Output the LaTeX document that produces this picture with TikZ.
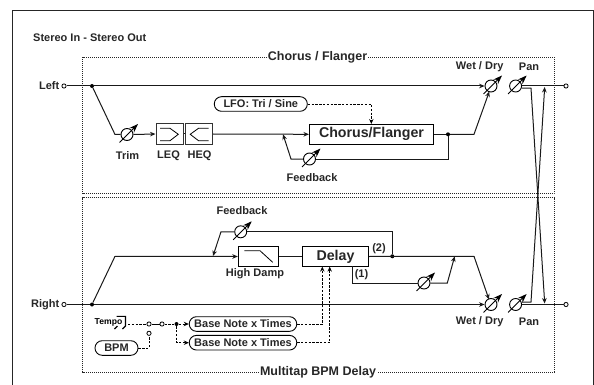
\documentclass[tikz,border=0pt]{standalone}
\usepackage{fontspec}
\setmainfont{Liberation Sans}[BoldFont={Liberation Sans Bold}]
\usetikzlibrary{arrows.meta,calc}
\newcommand{\fsz}[1]{\fontsize{#1}{#1}\selectfont\bfseries}
\tikzset{
  x=1pt,y=-1pt,
  sig/.style={line width=1pt,color=black!90,line join=miter},
  sigto/.style={sig,-{Stealth[length=5.5pt,width=4.6pt]}},
  ctl/.style={line width=0.85pt,dash pattern=on 2.4pt off 1.4pt},
  ctlto/.style={ctl,-{Stealth[length=5pt,width=4.4pt]}},
  zone/.style={line width=0.9pt,dash pattern=on 1pt off 1pt,color=black!85},
  outer/.style={line width=1.1pt,color=black!85},
  lbl/.style={font=\fsz{11},inner sep=0pt,text=black!85},
  zonelbl/.style={font=\fsz{12.5},inner sep=1pt,text=black!85},
  eqbox/.style={draw,line width=1pt,minimum width=27pt,minimum height=20pt,inner sep=0pt,color=black!80},
  fxbox/.style={draw,line width=1.1pt,inner sep=0pt,text=black!85},
  pill/.style={draw,rounded corners=7.2pt,line width=0.9pt,inner sep=0pt,minimum height=14.6pt,font=\fsz{11},text=black!85},
  term/.style={circle,draw,line width=0.8pt,fill=white,minimum size=4.2pt,inner sep=0pt},
  dot/.style={circle,fill=black,minimum size=4pt,inner sep=0pt},
  knobc/.style={circle,draw,line width=0.9pt,minimum size=12pt,inner sep=0pt},
  knobarrow/.style={line width=0.9pt,-{Stealth[length=9pt,width=6.5pt]}},
}
\newcommand{\knob}[3]{%
  \node[knobc] (#1) at (#2,#3) {};
  \draw[knobarrow] ($(#1)+(-7.5,8)$) -- ($(#1)+(11,-10.5)$);}
\begin{document}
\begin{tikzpicture}
\useasboundingbox (0,0) rectangle (594,385);
\draw[outer] (12.5,385) -- (12.5,10.5) -- (593.5,10.5) -- (593.5,385);
\node[lbl,anchor=west] (title) at (33,38) {Stereo In - Stereo Out};
\node[zonelbl] (zoneA) at (317.5,57) {Chorus / Flanger};
\node[zonelbl] (zoneB) at (318,372) {Multitap BPM Delay};
\draw[zone] (zoneA.west) -- (82.5,57) -- (82.5,193.5) -- (554,193.5) -- (554,57) -- (zoneA.east);
\draw[zone] (zoneB.west) -- (82.5,372) -- (82.5,197.5) -- (554,197.5) -- (554,372) -- (zoneB.east);
\node[lbl,anchor=east] (leftlbl) at (59.5,86) {Left};
\node[lbl,anchor=east] (rightlbl) at (59.5,304.5) {Right};
\node[term] (inL) at (64,86) {};
\node[term] (inR) at (64,304.5) {};
\node[term] (outL) at (566,86) {};
\node[term] (outR) at (566,304.5) {};
\node[dot] (jL) at (92,86) {};
\node[dot] (jR) at (92,304.5) {};
\knob{trim}{127}{134.5}
\node[lbl] (trimlbl) at (127.5,155.5) {Trim};
\node[eqbox] (leq) at (169.5,134) {};
\node[eqbox] (heq) at (199.2,134) {};
\node[lbl] (leqlbl) at (168.5,155.5) {LEQ};
\node[lbl] (heqlbl) at (199.5,155.5) {HEQ};
\draw[line width=0.8pt] (160,128.3) -- (170,128.3) -- (178.3,134.3) -- (170,140.7) -- (160,140.7);
\draw[line width=0.8pt] (208.5,128.3) -- (198.5,128.3) -- (190.2,134.3) -- (198.5,140.7) -- (208.5,140.7);
\draw[sig] (leq) -- (heq);
\node[fxbox,minimum width=124pt,minimum height=20pt,font=\fsz{14.2}] (chorus) at (371.5,134.3) {Chorus/Flanger};
\node[pill,minimum width=93pt] (lfo) at (260.8,104) {LFO: Tri / Sine};
\draw[ctlto] (lfo.east) -- (371.3,104) -- (371.3,124);
\coordinate (fbin) at (283,134.3);
\node[dot] (jC) at (448,134.3) {};
\knob{fbk}{309.5}{159}
\node[lbl] (fbklbl) at (312,178) {Feedback};
\knob{wetL}{491}{86}
\knob{panL}{515.6}{86}
\node[lbl] (wetLlbl) at (479.7,67) {Wet / Dry};
\node[lbl] (panLlbl) at (529,67) {Pan};
\coordinate (crossL) at (474,134.3);
\draw[sig] (inL) -- (jL);
\draw[sigto] (jL) -- (wetL.west);
\draw[sig] (jL) -- (115,134.5) -- (trim.west);
\draw[sigto] (trim.east) -- (leq.west);
\draw[sigto] (heq.east) -- (chorus.west);
\draw[sig] (chorus.east) -- (jC);
\draw[sigto] (jC) -- (crossL) -- (489.3,91.5);
\draw[sig] (jC) -- (448,159) -- (fbk.east);
\draw[sigto] (fbk.west) -- (291,159) -- (fbin);
\draw[sig] (panL.east) -- (outL);
\node[fxbox,minimum width=40pt,minimum height=19.5pt,line width=1pt] (damp) at (258.3,256.5) {};
\draw[line width=0.8pt] (244.3,250.7) -- (260,250.7) -- (272.7,262.3);
\node[lbl] (damplbl) at (255,274) {High Damp};
\node[fxbox,minimum width=65.5pt,minimum height=19.8pt,font=\fsz{14.2}] (delay) at (335.5,256.5) {Delay};
\node[dot] (j2) at (392.3,256.3) {};
\coordinate (fbinR) at (213,256);
\coordinate (tapin) at (454.7,256.3);
\coordinate (bendR) at (474,256.3);
\coordinate (rise) at (115,256.3);
\knob{fbkR}{240.7}{231.8}
\node[lbl] (fbkRlbl) at (242,211) {Feedback};
\knob{tap}{424}{283}
\node[lbl] (tw) at (379,248.5) {(2)};
\node[lbl] (on) at (361.5,274.5) {(1)};
\knob{wetR}{491}{304.5}
\knob{panR}{515.6}{304.5}
\node[lbl] (wetRlbl) at (479.7,322) {Wet / Dry};
\node[lbl] (panRlbl) at (529,322) {Pan};
\draw[sig] (inR) -- (jR);
\draw[sigto] (jR) -- (wetR.west);
\draw[sig] (jR) -- (rise);
\draw[sigto] (rise) -- (damp.west);
\draw[sig] (damp.east) -- (delay.west);
\draw[sig] (delay.east) -- (bendR);
\draw[sigto] (bendR) -- (489,299.5);
\draw[sig] (j2) -- (392.3,231.8) -- (fbkR.east);
\draw[sigto] (fbkR.west) -- (221,231.8) -- (fbinR);
\draw[sig] (352,266.4) -- (352,283) -- (tap.west);
\draw[sigto] (tap.east) -- (447.3,283) -- (tapin);
\draw[sig] (panR.east) -- (outR);
\draw[sigto] (panL.east) ++(0,2.2) -- (531,88.2) -- (544.7,303.5);
\draw[sigto] (panR.east) ++(0,-2.5) -- (531,302) -- (544.7,87);
\node[font=\fsz{8.6},inner sep=0pt] (tempo) at (108.5,322) {Tempo};
\draw[line width=1.1pt] (116.7,316.3) -- (125.5,316.3) -- (125.5,326) -- (122.5,329);
\draw[line width=1.1pt] (117.5,326) -- (114.5,329);
\coordinate (tempoout) at (128,324);
\node[term] (sw1) at (149,324) {};
\node[term] (sw2) at (162,324) {};
\node[term] (sw3) at (149,333.3) {};
\node[dot] (jT) at (176.5,324) {};
\node[pill,minimum width=107.5pt] (bn1) at (243,324) {Base Note x Times};
\node[pill,minimum width=107.5pt] (bn2) at (243,342.7) {Base Note x Times};
\node[pill,minimum width=43pt] (bpm) at (116.5,348) {BPM};
\draw[ctl] (tempoout) -- (sw1);
\draw[line width=0.8pt] (sw1.east) -- (sw2.west);
\draw[ctl] (sw2) -- (jT);
\draw[ctlto] (jT) -- (bn1.west);
\draw[ctlto] (jT) -- (176.5,342.7) -- (bn2.west);
\draw[ctl] (bpm.east) -- (149,348) -- (sw3);
\draw[ctlto] (bn1.east) -- (322.3,324) -- (322.3,266.6);
\draw[ctlto] (bn2.east) -- (329.7,342.7) -- (329.7,266.6);
\end{tikzpicture}
\end{document}
